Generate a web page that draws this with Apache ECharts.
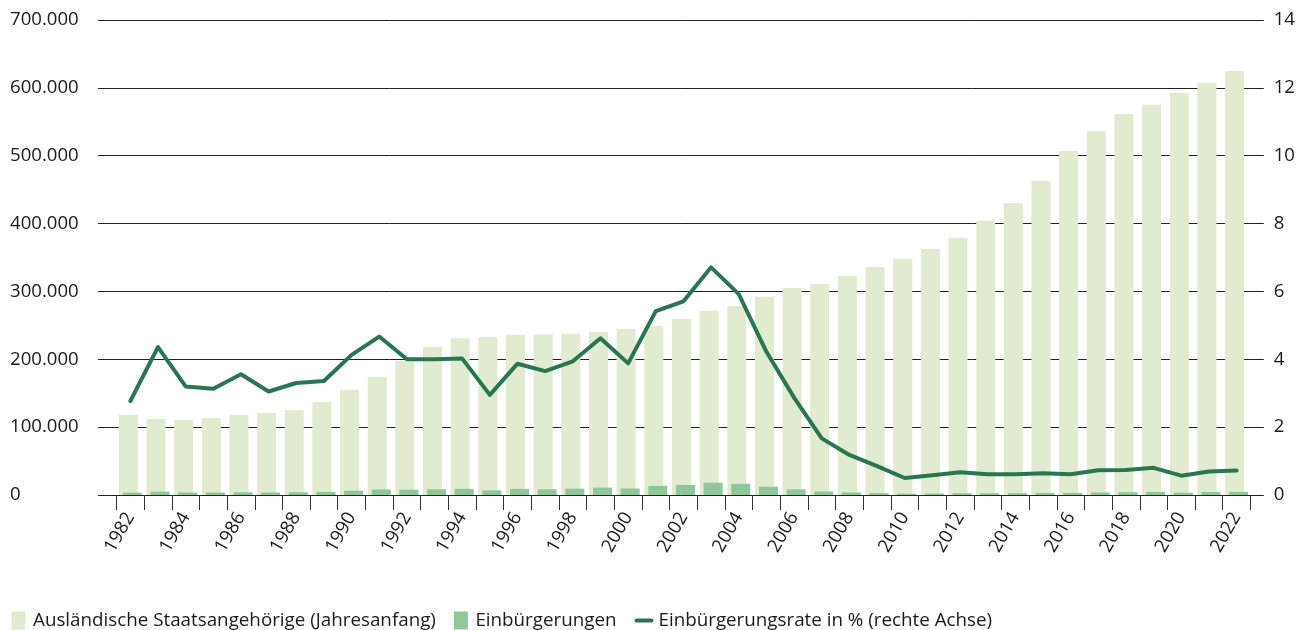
<!DOCTYPE html>
<html>
<head>
<meta charset="utf-8">
<script src="https://cdn.jsdelivr.net/npm/echarts/dist/echarts.min.js"></script>
<style>
  html, body { margin: 0; padding: 0; background: #fff; }
  #main { width: 1298px; height: 630px; }
</style>
</head>
<body>
<div id="main"></div>
<script>
// Jahre
const years = [
  '1982','1983','1984','1985','1986','1987','1988','1989','1990','1991',
  '1992','1993','1994','1995','1996','1997','1998','1999','2000','2001',
  '2002','2003','2004','2005','2006','2007','2008','2009','2010','2011',
  '2012','2013','2014','2015','2016','2017','2018','2019','2020','2021','2022'
];

// Ausländische Staatsangehörige (Jahresanfang)
const auslaender = [
  118000, 112000, 110500, 113500, 118000, 121000, 125000, 137000, 155000, 174000,
  198000, 218000, 231000, 233000, 236000, 237000, 237500, 240500, 244500, 249000,
  259500, 271500, 278500, 292000, 305000, 311000, 323000, 336000, 348000, 362500,
  379000, 404000, 430000, 463000, 507000, 536000, 561500, 575000, 592500, 607500, 625000
];

// Einbürgerungen
const einbuergerungen = [
  3500, 5000, 3700, 3600, 4000, 3700, 4000, 4600, 6300, 8000,
  7800, 8500, 9000, 6800, 9000, 8400, 9300, 11000, 9600, 13500,
  14800, 18100, 16400, 12200, 8300, 5200, 3800, 2800, 2000, 2200,
  2600, 2500, 2700, 3100, 3100, 3800, 4100, 4600, 3400, 4400, 4600
];

// Einbürgerungsrate in %
const rate = [
  2.77, 4.36, 3.20, 3.13, 3.56, 3.05, 3.30, 3.36, 4.13, 4.67,
  4.00, 4.00, 4.02, 2.95, 3.87, 3.65, 3.94, 4.62, 3.88, 5.42,
  5.71, 6.71, 5.92, 4.22, 2.87, 1.67, 1.18, 0.85, 0.50, 0.58,
  0.67, 0.61, 0.61, 0.64, 0.61, 0.73, 0.74, 0.80, 0.57, 0.69, 0.72
];

const leftTicks = [0, 700000, 100000];   // min, max, interval
const rightTicks = [0, 14, 2];

const FONT = '"Open Sans", sans-serif';
const TXT = '#1a1a1a';
const FS = 18.6;

function fmtThousand(v) {
  return String(v).replace(/\B(?=(\d{3})+(?!\d))/g, '.');
}

const chart = echarts.init(document.getElementById('main'));

const option = {
  animation: false,
  textStyle: { fontFamily: FONT },
  // grid 0: Gitterlinien + Achsenbeschriftung, grid 1: Balken und Linie
  grid: [
    { left: 98, right: 32, top: 20, bottom: 135 },
    { left: 116.5, right: 47.6, top: 20, bottom: 135 }
  ],
  legend: {
    left: 11.5,
    top: 611,
    padding: 0,
    itemWidth: 19,
    itemHeight: 18,
    itemGap: 18,
    symbolKeepAspect: true,
    textStyle: { fontFamily: FONT, fontSize: 18.8, color: TXT, padding: [0, 0, 3, 0] },
    data: [
      { name: 'Ausländische Staatsangehörige (Jahresanfang)', icon: 'path://M0,0 L14,0 L14,18 L0,18 Z' },
      { name: 'Einbürgerungen', icon: 'path://M0,0 L14,0 L14,18 L0,18 Z' },
      { name: 'Einbürgerungsrate in % (rechte Achse)', icon: 'path://M2,0 L17,0 A2,2 0 0 1 17,4 L2,4 A2,2 0 0 1 2,0 Z' }
    ]
  },
  xAxis: [
    { type: 'value', gridIndex: 0, min: 0, max: 1, show: false },
    {
      type: 'category',
      gridIndex: 1,
      data: years,
      boundaryGap: true,
      axisLine: { show: false },
      axisTick: { show: true, interval: 0, length: 15, lineStyle: { color: '#333' } },
      axisLabel: {
        interval: 1,
        rotate: 60,
        margin: 19,
        fontFamily: FONT,
        fontSize: FS,
        color: TXT
      }
    }
  ],
  yAxis: [
    {
      type: 'value',
      gridIndex: 0,
      position: 'left',
      min: leftTicks[0], max: leftTicks[1], interval: leftTicks[2],
      axisLine: { show: false },
      axisTick: { show: false },
      splitLine: { show: true, lineStyle: { color: '#222', width: 1 } },
      axisLabel: {
        align: 'left',
        margin: 88,
        fontFamily: FONT,
        fontSize: FS,
        color: TXT,
        formatter: fmtThousand
      }
    },
    {
      type: 'value',
      gridIndex: 0,
      position: 'right',
      min: rightTicks[0], max: rightTicks[1], interval: rightTicks[2],
      axisLine: { show: false },
      axisTick: { show: false },
      splitLine: { show: false },
      axisLabel: { align: 'left', margin: 10, fontFamily: FONT, fontSize: FS, color: TXT }
    },
    { type: 'value', gridIndex: 1, min: leftTicks[0], max: leftTicks[1], show: false },
    { type: 'value', gridIndex: 1, min: rightTicks[0], max: rightTicks[1], show: false }
  ],
  series: [
    {
      name: 'Ausländische Staatsangehörige (Jahresanfang)',
      type: 'bar',
      xAxisIndex: 1,
      yAxisIndex: 2,
      barWidth: 19,
      barGap: '-79%',
      itemStyle: { color: '#e1ebcf' },
      data: auslaender
    },
    {
      name: 'Einbürgerungen',
      type: 'bar',
      xAxisIndex: 1,
      yAxisIndex: 2,
      barWidth: 19,
      barGap: '-79%',
      itemStyle: { color: '#8ec89a' },
      data: einbuergerungen
    },
    {
      name: 'Einbürgerungsrate in % (rechte Achse)',
      type: 'line',
      xAxisIndex: 1,
      yAxisIndex: 3,
      symbol: 'none',
      z: 5,
      itemStyle: { color: '#2a7653' },
      lineStyle: { color: '#2a7653', width: 4, cap: 'round', join: 'round' },
      data: rate
    }
  ]
};

chart.setOption(option);
</script>
</body>
</html>
